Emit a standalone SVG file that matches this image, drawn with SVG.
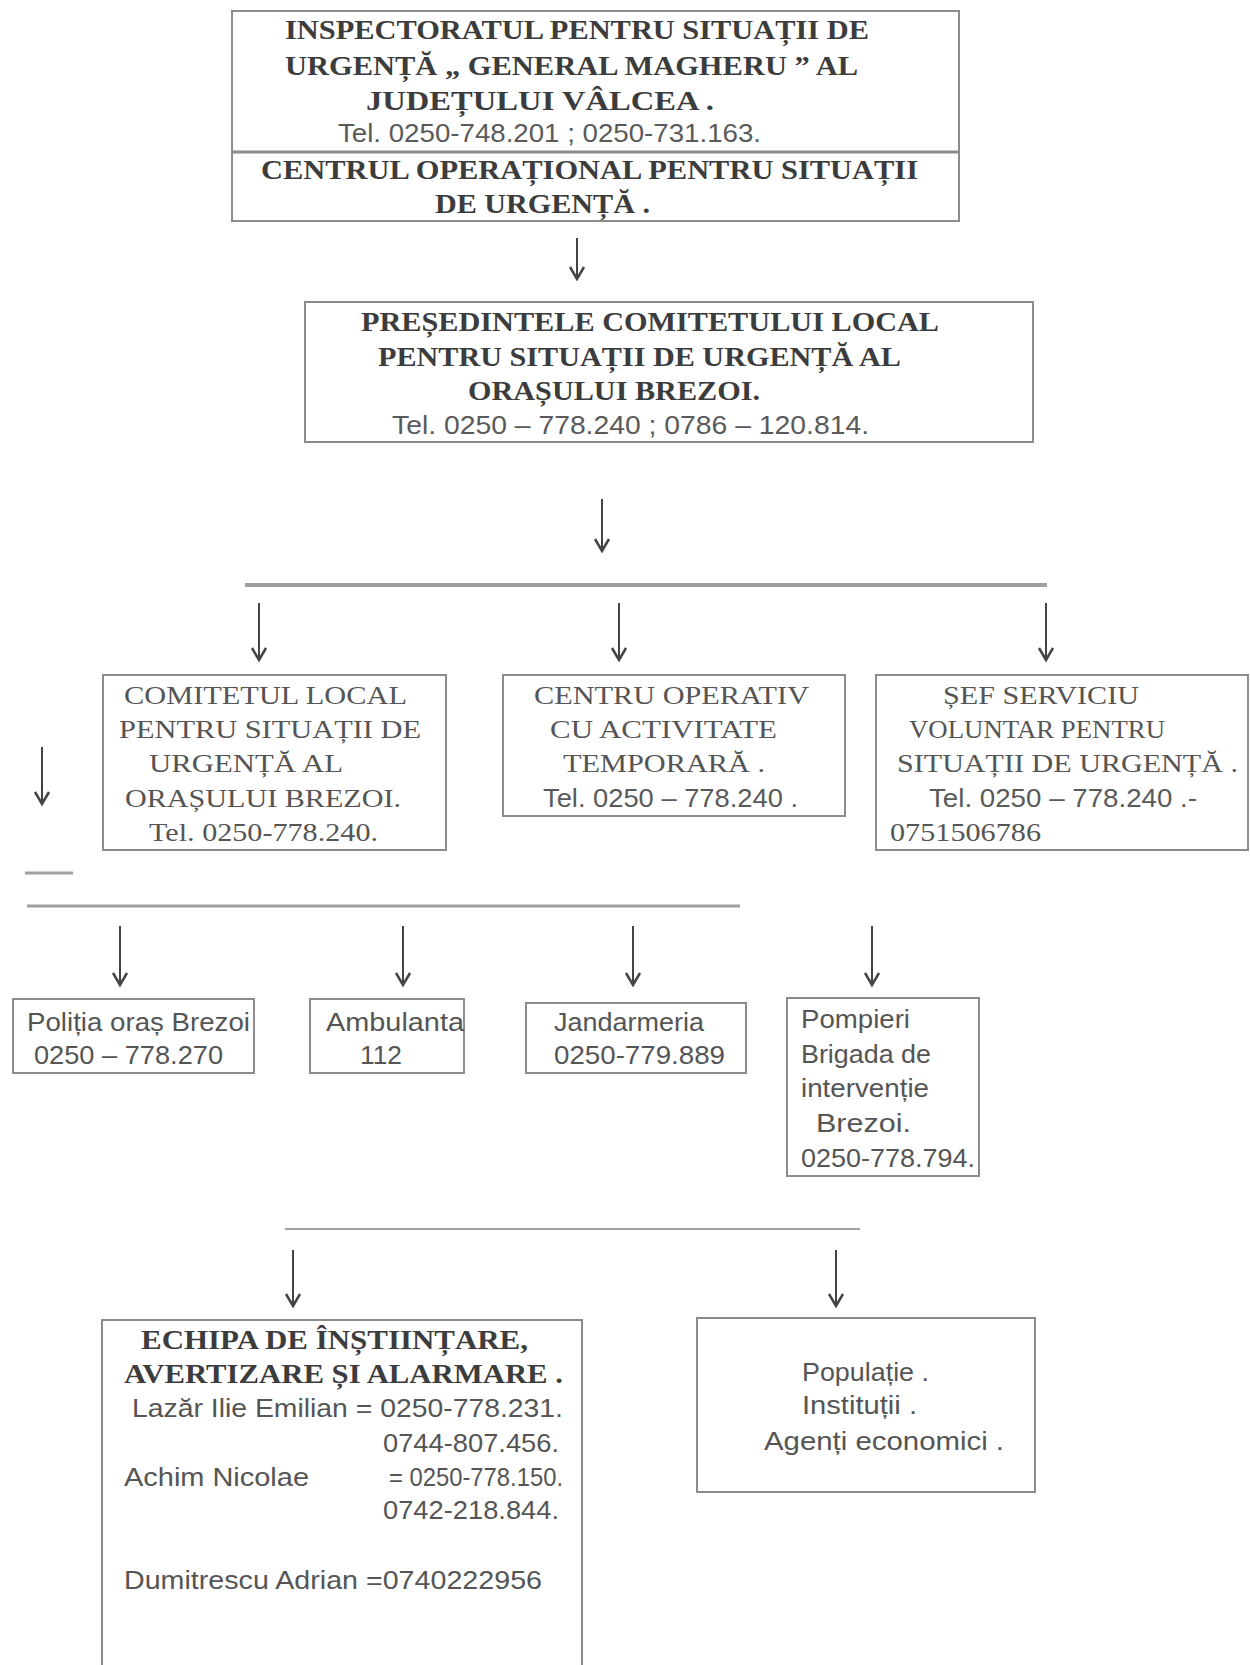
<svg xmlns="http://www.w3.org/2000/svg" width="1250" height="1665" viewBox="0 0 1250 1665">
<style>
.box{fill:none;stroke:#8c8c8c;stroke-width:2}
.tb{font-family:"Liberation Serif","Times New Roman",serif;font-weight:bold;font-size:27px;fill:#3c3c3c}
.tr{font-family:"Liberation Serif","Times New Roman",serif;font-size:26px;fill:#555}
.ts{font-family:"Liberation Sans",Arial,sans-serif;font-size:25px;fill:#555}
.tel{font-family:"Liberation Sans",Arial,sans-serif;font-size:26px;fill:#5a5a5a}
.bar{stroke:#a0a0a0;fill:none}
.arr{stroke:#444;stroke-width:2;fill:none;marker-end:url(#ah)}
</style>
<defs>
<marker id="ah" viewBox="-14 -9 16 18" refX="0" refY="0" markerWidth="16" markerHeight="18" markerUnits="userSpaceOnUse" orient="auto">
<path d="M-12,-7 L0,0 L-12,7" fill="none" stroke="#444" stroke-width="2.5"/>
</marker>
</defs>
<rect width="1250" height="1665" fill="#fff"/>

<g id="connectors">
<line class="bar" x1="245" y1="585" x2="1047" y2="585" stroke-width="4"/>
<line class="bar" x1="27" y1="906" x2="740" y2="906" stroke-width="3"/>
<line class="bar" x1="25" y1="873" x2="73" y2="873" stroke-width="3"/>
<line class="bar" x1="285" y1="1229" x2="860" y2="1229" stroke-width="2"/>
<line class="arr" x1="577" y1="238" x2="577" y2="279"/>
<line class="arr" x1="602" y1="499" x2="602" y2="551"/>
<line class="arr" x1="259" y1="603" x2="259" y2="660"/>
<line class="arr" x1="619" y1="603" x2="619" y2="660"/>
<line class="arr" x1="1046" y1="603" x2="1046" y2="660"/>
<line class="arr" x1="42" y1="747" x2="42" y2="804"/>
<line class="arr" x1="120" y1="926" x2="120" y2="985"/>
<line class="arr" x1="403" y1="926" x2="403" y2="985"/>
<line class="arr" x1="633" y1="926" x2="633" y2="985" stroke-width="3"/>
<line class="arr" x1="872" y1="926" x2="872" y2="985"/>
<line class="arr" x1="293" y1="1250" x2="293" y2="1306"/>
<line class="arr" x1="836" y1="1250" x2="836" y2="1306"/>
</g>

<g id="isu">
<rect class="box" x="232" y="11" width="727" height="210" stroke-width="3"/>
<line x1="232" y1="152" x2="959" y2="152" stroke="#8c8c8c" stroke-width="3"/>
<text class="tb" x="285" y="39" textLength="584" lengthAdjust="spacingAndGlyphs">INSPECTORATUL PENTRU SITUAȚII DE</text>
<text class="tb" x="285" y="75" textLength="573" lengthAdjust="spacingAndGlyphs">URGENȚĂ „ GENERAL MAGHERU ” AL</text>
<text class="tb" x="366" y="110" textLength="348" lengthAdjust="spacingAndGlyphs">JUDEȚULUI VÂLCEA .</text>
<text class="tel" x="338" y="142" textLength="423" lengthAdjust="spacingAndGlyphs">Tel. 0250-748.201 ; 0250-731.163.</text>
<text class="tb" x="261" y="179" textLength="657" lengthAdjust="spacingAndGlyphs">CENTRUL OPERAȚIONAL PENTRU SITUAȚII</text>
<text class="tb" x="435" y="213" textLength="215" lengthAdjust="spacingAndGlyphs">DE URGENȚĂ .</text>
</g>

<g id="presedinte">
<rect class="box" x="305" y="302" width="728" height="140"/>
<text class="tb" x="361" y="331" textLength="578" lengthAdjust="spacingAndGlyphs">PREȘEDINTELE COMITETULUI LOCAL</text>
<text class="tb" x="378" y="366" textLength="523" lengthAdjust="spacingAndGlyphs">PENTRU SITUAȚII DE URGENȚĂ AL</text>
<text class="tb" x="468" y="400" textLength="292" lengthAdjust="spacingAndGlyphs">ORAȘULUI BREZOI.</text>
<text class="tel" x="392" y="434" textLength="477" lengthAdjust="spacingAndGlyphs">Tel. 0250 – 778.240  ;  0786 – 120.814.</text>
</g>

<g id="comitet">
<rect class="box" x="103" y="675" width="343" height="175"/>
<text class="tr" x="124" y="704" textLength="283" lengthAdjust="spacingAndGlyphs">COMITETUL LOCAL</text>
<text class="tr" x="119" y="738" textLength="302" lengthAdjust="spacingAndGlyphs">PENTRU SITUAȚII DE</text>
<text class="tr" x="149" y="772" textLength="194" lengthAdjust="spacingAndGlyphs">URGENȚĂ AL</text>
<text class="tr" x="125" y="807" textLength="276" lengthAdjust="spacingAndGlyphs">ORAȘULUI BREZOI.</text>
<text class="tr" x="149" y="841" textLength="229" lengthAdjust="spacingAndGlyphs">Tel. 0250-778.240.</text>
</g>

<g id="centru-operativ">
<rect class="box" x="503" y="675" width="342" height="141"/>
<text class="tr" x="534" y="704" textLength="275" lengthAdjust="spacingAndGlyphs">CENTRU OPERATIV</text>
<text class="tr" x="550" y="738" textLength="227" lengthAdjust="spacingAndGlyphs">CU ACTIVITATE</text>
<text class="tr" x="563" y="772" textLength="202" lengthAdjust="spacingAndGlyphs">TEMPORARĂ .</text>
<text class="tel" x="543" y="807" textLength="255" lengthAdjust="spacingAndGlyphs">Tel. 0250 – 778.240 .</text>
</g>

<g id="sef-serviciu">
<rect class="box" x="876" y="675" width="372" height="175"/>
<text class="tr" x="943" y="704" textLength="196" lengthAdjust="spacingAndGlyphs">ȘEF SERVICIU</text>
<text class="tr" x="909" y="738" textLength="256" lengthAdjust="spacingAndGlyphs">VOLUNTAR PENTRU</text>
<text class="tr" x="897" y="772" textLength="341" lengthAdjust="spacingAndGlyphs">SITUAȚII DE URGENȚĂ .</text>
<text class="tel" x="929" y="807" textLength="268" lengthAdjust="spacingAndGlyphs">Tel. 0250 – 778.240 .-</text>
<text class="tr" x="890" y="841" textLength="151" lengthAdjust="spacingAndGlyphs">0751506786</text>
</g>

<g id="politia">
<rect class="box" x="13" y="999" width="241" height="74"/>
<text class="ts" x="27" y="1031" textLength="223" lengthAdjust="spacingAndGlyphs">Poliția oraș Brezoi</text>
<text class="ts" x="34" y="1064" textLength="189" lengthAdjust="spacingAndGlyphs">0250 – 778.270</text>
</g>

<g id="ambulanta">
<rect class="box" x="310" y="999" width="154" height="74"/>
<text class="ts" x="326" y="1031" textLength="138" lengthAdjust="spacingAndGlyphs">Ambulanta</text>
<text class="ts" x="360" y="1064" textLength="42" lengthAdjust="spacingAndGlyphs">112</text>
</g>

<g id="jandarmeria">
<rect class="box" x="526" y="1003" width="220" height="70"/>
<text class="ts" x="554" y="1031" textLength="150" lengthAdjust="spacingAndGlyphs">Jandarmeria</text>
<text class="ts" x="554" y="1064" textLength="171" lengthAdjust="spacingAndGlyphs">0250-779.889</text>
</g>

<g id="pompieri">
<rect class="box" x="787" y="998" width="192" height="178"/>
<text class="ts" x="801" y="1028" textLength="109" lengthAdjust="spacingAndGlyphs">Pompieri</text>
<text class="ts" x="801" y="1063" textLength="130" lengthAdjust="spacingAndGlyphs">Brigada de</text>
<text class="ts" x="801" y="1097" textLength="128" lengthAdjust="spacingAndGlyphs">intervenție</text>
<text class="ts" x="816" y="1132" textLength="95" lengthAdjust="spacingAndGlyphs">Brezoi.</text>
<text class="ts" x="801" y="1167" textLength="174" lengthAdjust="spacingAndGlyphs">0250-778.794.</text>
</g>

<g id="echipa">
<rect class="box" x="102" y="1320" width="480" height="370"/>
<text class="tb" x="141" y="1349" textLength="387" lengthAdjust="spacingAndGlyphs">ECHIPA DE ÎNȘTIINȚARE,</text>
<text class="tb" x="124" y="1383" textLength="439" lengthAdjust="spacingAndGlyphs">AVERTIZARE ȘI ALARMARE .</text>
<text class="ts" x="132" y="1417" textLength="431" lengthAdjust="spacingAndGlyphs">Lazăr Ilie Emilian = 0250-778.231.</text>
<text class="ts" x="383" y="1452" textLength="176" lengthAdjust="spacingAndGlyphs">0744-807.456.</text>
<text class="ts" x="124" y="1486" textLength="185" lengthAdjust="spacingAndGlyphs">Achim Nicolae</text>
<text class="ts" x="389" y="1486" textLength="174" lengthAdjust="spacingAndGlyphs">= 0250-778.150.</text>
<text class="ts" x="383" y="1519" textLength="176" lengthAdjust="spacingAndGlyphs">0742-218.844.</text>
<text class="ts" x="124" y="1589" textLength="418" lengthAdjust="spacingAndGlyphs">Dumitrescu Adrian =0740222956</text>
</g>

<g id="populatie">
<rect class="box" x="697" y="1318" width="338" height="174"/>
<text class="ts" x="802" y="1381" textLength="127" lengthAdjust="spacingAndGlyphs">Populație .</text>
<text class="ts" x="802" y="1414" textLength="115" lengthAdjust="spacingAndGlyphs">Instituții .</text>
<text class="ts" x="764" y="1450" textLength="240" lengthAdjust="spacingAndGlyphs">Agenți  economici .</text>
</g>
</svg>
